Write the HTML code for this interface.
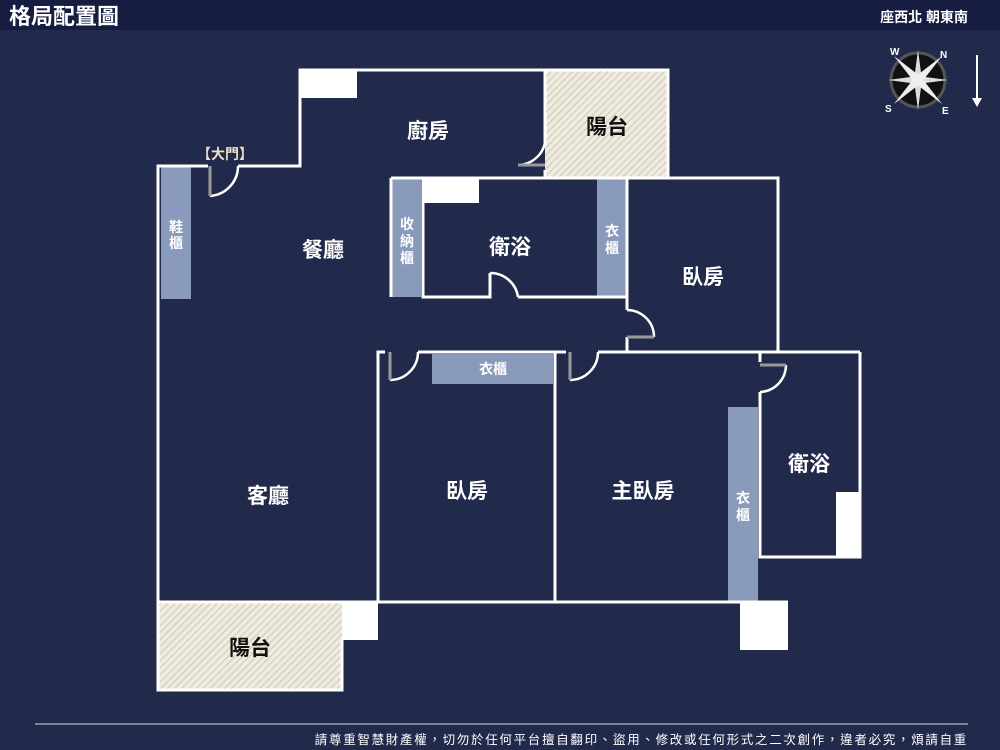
<!DOCTYPE html>
<html><head><meta charset="utf-8"><style>
html,body{margin:0;padding:0;width:1000px;height:750px;overflow:hidden;background:#222a4b;}
svg{display:block}
text{font-family:"Liberation Sans","Noto Sans CJK TC",sans-serif;}
</style></head><body>
<svg width="1000" height="750" viewBox="0 0 1000 750">
<defs>
<pattern id="h" width="5" height="5" patternUnits="userSpaceOnUse" patternTransform="rotate(45)">
<rect width="5" height="5" fill="#efecdf"/><line x1="0" y1="0" x2="0" y2="5" stroke="#c4bfa8" stroke-width="1.6"/>
</pattern>
</defs>
<rect x="0" y="0" width="1000" height="30" fill="#161d40"/>
<text x="9" y="24" font-size="22" fill="#fff" font-weight="bold">格局配置圖</text>
<text x="968" y="22" font-size="14" fill="#fff" text-anchor="end" font-weight="bold">座西北 朝東南</text>

<g transform="translate(918,80)">
<circle r="27" fill="#111" stroke="#555" stroke-width="3"/>
<polygon points="0,-30 4,0 0,30 -4,0" fill="#ddd"/>
<polygon points="-30,0 0,4 30,0 0,-4" fill="#ddd"/>
<polygon points="-24,-24 3,-3 24,24 -3,3" fill="#eee"/>
<polygon points="24,-24 3,3 -24,24 -3,-3" fill="#eee"/>
<text x="-28" y="-25" font-size="10" fill="#fff" font-weight="bold">W</text>
<text x="22" y="-22" font-size="10" fill="#fff" font-weight="bold">N</text>
<text x="-33" y="32" font-size="10" fill="#fff" font-weight="bold">S</text>
<text x="24" y="34" font-size="10" fill="#fff" font-weight="bold">E</text>
</g>
<line x1="977" y1="55" x2="977" y2="100" stroke="#fff" stroke-width="2"/>
<polygon points="972,98 982,98 977,107" fill="#fff"/>

<rect x="545" y="70" width="123" height="108" fill="url(#h)"/>
<rect x="158" y="602" width="184" height="88" fill="url(#h)"/>
<rect x="342" y="602" width="36" height="38" fill="#fff"/>
<rect x="300" y="70" width="57" height="28" fill="#fff"/>
<rect x="423" y="178" width="56" height="25" fill="#fff"/>
<rect x="836" y="492" width="24" height="65" fill="#fff"/>
<rect x="740" y="602" width="48" height="48" fill="#fff"/>
<g fill="#8a9aba">
<rect x="161" y="166" width="30" height="133"/>
<rect x="391" y="178" width="30" height="119"/>
<rect x="597" y="178" width="30" height="119"/>
<rect x="432" y="354" width="121" height="30"/>
<rect x="728" y="407" width="30" height="195"/>
</g>
<g stroke="#fff" stroke-width="3" fill="none">
<polyline points="208,166 158,166 158,690 342,690 342,640"/>
<polyline points="238,166 300,166 300,70 668,70 668,178"/>
<line x1="545" y1="70" x2="545" y2="143"/>
<line x1="545" y1="170" x2="545" y2="178"/>
<polyline points="423,178 778,178 778,352"/>
<polyline points="391,178 423,178 423,297 490,297 490,273"/>
<polyline points="518,297 627,297 627,310"/>
<line x1="391" y1="297" x2="391" y2="178"/>
<line x1="627" y1="178" x2="627" y2="297"/>
<line x1="627" y1="337" x2="627" y2="352"/>
<polyline points="378,602 378,352 385,352"/>
<line x1="418" y1="352" x2="566" y2="352"/>
<line x1="598" y1="352" x2="860" y2="352"/>
<line x1="555" y1="352" x2="555" y2="602"/>
<polyline points="860,352 860,557 760,557 760,392"/>
<line x1="760" y1="352" x2="760" y2="362"/>
<line x1="158" y1="602" x2="788" y2="602"/>
</g>
<g stroke="#fff" stroke-width="2.5" fill="none">
<path d="M210,196 A30,30 0 0 0 238,166"/>
<path d="M518,165 A28,28 0 0 0 545,143"/>
<path d="M490,273 A28,28 0 0 1 518,297"/>
<path d="M627,310 A27,27 0 0 1 654,337"/>
<path d="M390,380 A28,28 0 0 0 418,352"/>
<path d="M570,380 A28,28 0 0 0 598,352"/>
<path d="M786,365 A27,27 0 0 1 760,392"/>
</g>
<g stroke="#999" stroke-width="3">
<line x1="210" y1="166" x2="210" y2="196"/>
<line x1="518" y1="165" x2="545" y2="165"/>
<line x1="390" y1="352" x2="390" y2="380"/>
<line x1="570" y1="352" x2="570" y2="380"/>
<line x1="760" y1="365" x2="786" y2="365"/>
<line x1="627" y1="337" x2="654" y2="337"/>
</g>
<g fill="#fff" font-size="21" font-weight="bold" text-anchor="middle">
<text x="428" y="138">廚房</text>
<text x="323" y="257">餐廳</text>
<text x="510" y="254">衛浴</text>
<text x="703" y="284">臥房</text>
<text x="268" y="503">客廳</text>
<text x="467" y="498">臥房</text>
<text x="643" y="498">主臥房</text>
<text x="809" y="471">衛浴</text>
</g>
<g fill="#111" font-size="21" font-weight="bold" text-anchor="middle">
<text x="607" y="134">陽台</text>
<text x="250" y="655">陽台</text>
</g>
<text x="225" y="159" font-size="14" fill="#e8e0c8" text-anchor="middle" font-weight="bold">【大門】</text>
<g fill="#fff" font-size="14" font-weight="bold" text-anchor="middle">
<text x="176" y="232">鞋</text><text x="176" y="248">櫃</text>
<text x="407" y="229">收</text><text x="407" y="246">納</text><text x="407" y="263">櫃</text>
<text x="612" y="236">衣</text><text x="612" y="253">櫃</text>
<text x="493" y="374">衣櫃</text>
<text x="743" y="503">衣</text><text x="743" y="520">櫃</text>
</g>
<line x1="35" y1="724" x2="968" y2="724" stroke="#9aa0b4" stroke-width="1.5"/>
<text x="968" y="744" font-size="12.5" fill="#fff" text-anchor="end" letter-spacing="1.7">請尊重智慧財產權，切勿於任何平台擅自翻印、盜用、修改或任何形式之二次創作，違者必究，煩請自重</text>
</svg>
</body></html>
